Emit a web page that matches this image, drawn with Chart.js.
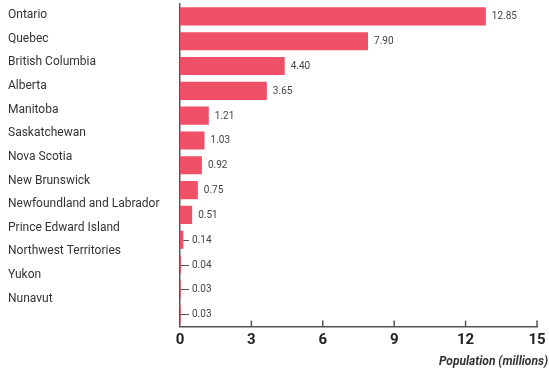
<!DOCTYPE html>
<html><head><meta charset="utf-8">
<script src="https://cdn.jsdelivr.net/npm/chart.js@4"></script>
<style>html,body{margin:0;padding:0;background:#fff}#wrap{width:549px;height:373px}</style>
</head><body><div id="wrap"><canvas id="c"></canvas></div>
<script>
const provinces = ['Ontario','Quebec','British Columbia','Alberta','Manitoba','Saskatchewan','Nova Scotia','New Brunswick','Newfoundland and Labrador','Prince Edward Island','Northwest Territories','Yukon','Nunavut'];
const population = [12.85, 7.90, 4.40, 3.65, 1.21, 1.03, 0.92, 0.75, 0.51, 0.14, 0.04, 0.03, 0.03];
const valueLabels = ['12.85','7.90','4.40','3.65','1.21','1.03','0.92','0.75','0.51','0.14','0.04','0.03','0.03'];
const xTicks = [0, 3, 6, 9, 12, 15];
const axisTitle = 'Population (millions)';

const marks = {
  id: 'marks',
  afterDatasetsDraw(chart) {
    const ctx = chart.ctx;
    const meta = chart.getDatasetMeta(0);
    const xs = chart.scales.x;
    const zero = xs.getPixelForValue(0);
    ctx.save();
    ctx.font = '10px Roboto';
    ctx.fillStyle = '#444';
    ctx.textBaseline = 'middle';
    ctx.textAlign = 'left';
    meta.data.forEach((bar, i) => {
      const minX = zero + 12;
      let tx = bar.x + 6;
      if (tx < minX) {
        ctx.strokeStyle = '#555';
        ctx.lineWidth = 1;
        ctx.beginPath();
        ctx.moveTo(bar.x, Math.round(bar.y) + 0.5);
        ctx.lineTo(minX - 3, Math.round(bar.y) + 0.5);
        ctx.stroke();
        tx = minX;
      }
      ctx.fillText(valueLabels[i], tx, bar.y + 0.5);
    });
    ctx.strokeStyle = '#555';
    ctx.lineWidth = 1.5;
    xs.ticks.forEach(t => {
      if (t.value === 0) return;
      const px = xs.getPixelForValue(t.value);
      ctx.beginPath();
      ctx.moveTo(px, chart.chartArea.bottom);
      ctx.lineTo(px, chart.chartArea.bottom - 6);
      ctx.stroke();
    });
    ctx.restore();
  }
};

new Chart(document.getElementById('c'), {
  type: 'bar',
  data: {
    labels: provinces,
    datasets: [{
      data: population,
      backgroundColor: '#EF5067',
      borderWidth: 0,
      barPercentage: 0.73,
      categoryPercentage: 1,
      yAxisID: 'y',
      xAxisID: 'x'
    }]
  },
  options: {
    indexAxis: 'y',
    responsive: true,
    maintainAspectRatio: false,
    animation: false,
    layout: { padding: { left: 8, top: 4, right: 1, bottom: 4 } },
    plugins: {
      legend: { display: false },
      tooltip: { enabled: false },
      title: {
        display: true,
        position: 'bottom',
        align: 'end',
        text: axisTitle,
        color: '#333',
        font: { family: 'Roboto', size: 12, style: 'italic', weight: 'bold' },
        padding: { top: 0, bottom: 0 }
      }
    },
    scales: {
      y: { type: 'category', display: false, grid: { display: false } },
      yl: {
        type: 'linear',
        position: 'left',
        reverse: true,
        offset: false,
        min: -0.466,
        max: 13.18,
        afterBuildTicks: s => { s.ticks = provinces.map((_, i) => ({ value: i })); },
        afterFit: s => { s.width = 172; s.paddingTop = 0; s.paddingBottom = 0; },
        ticks: {
          autoSkip: false,
          crossAlign: 'far',
          callback: v => provinces[v],
          font: { family: 'Roboto', size: 12 },
          color: '#333'
        },
        grid: { display: false, drawTicks: false },
        border: { display: true, color: '#555', width: 1.5 }
      },
      x: {
        type: 'linear',
        min: 0,
        max: 15,
        offset: false,
        afterBuildTicks: s => { s.ticks = xTicks.map(v => ({ value: v })); },
        afterFit: s => { s.paddingRight = 12; },
        ticks: {
          padding: 5,
          font: { family: 'Roboto', size: 15, weight: 'bold' },
          color: '#222'
        },
        grid: { display: false, drawTicks: false },
        border: { display: true, color: '#555', width: 1.5 }
      }
    }
  },
  plugins: [marks]
});
</script>
</body></html>
